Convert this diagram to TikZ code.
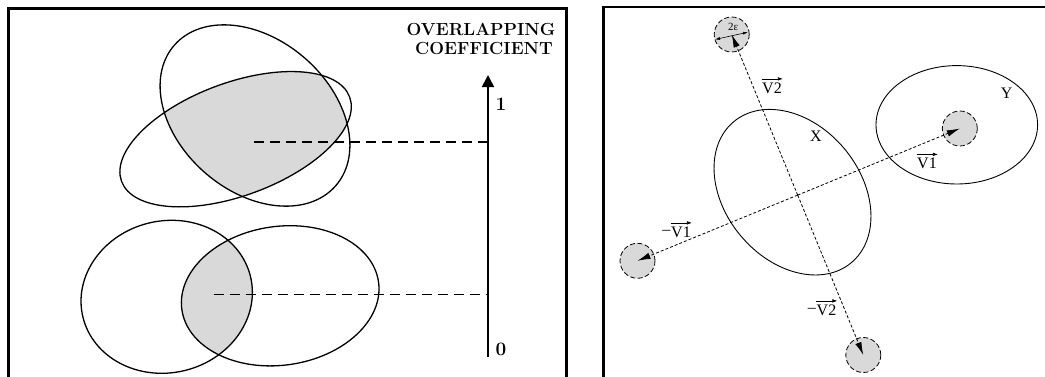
\documentclass[tikz,border=0pt]{standalone}
\usepackage{fontspec}
\newfontfamily\tnr{Liberation Serif}
\usetikzlibrary{arrows.meta}
\definecolor{areagray}{HTML}{D9D9D9}
\begin{document}
\begin{tikzpicture}[x=1pt,y=1pt,
  frame/.style={line width=2.7pt},
  ell/.style={line width=1.3pt},
  lead/.style={dash pattern=on 10pt off 6pt, line width=1.2pt},
  axisline/.style={line width=1.6pt, -{Triangle[length=12pt,width=12pt]}},
  boldlbl/.style={font=\fontsize{17.5}{20}\selectfont\bfseries, inner sep=0pt},
  digitlbl/.style={font=\fontsize{19}{21}\selectfont\bfseries, inner sep=0pt},
  rell/.style={line width=0.9pt},
  vecline/.style={dash pattern=on 3pt off 2pt, line width=0.8pt, -{Latex[length=13pt,width=6.5pt]}},
  overarrow/.style={line width=0.6pt, -{Latex[length=5pt,width=3.5pt]}},
  spot/.style={circle, minimum size=35pt, inner sep=0pt, fill=areagray, draw, dash pattern=on 5pt off 2.5pt, line width=0.8pt},
  vlbl/.style={font=\tnr\fontsize{16}{18}\selectfont, inner sep=0pt},
  smalllbl/.style={font=\tnr\fontsize{11}{12}\selectfont, inner sep=0pt}]
\useasboundingbox (0,0) rectangle (1045,376);
\clip (0,0) rectangle (1045,376);

% ---------- left panel ----------
\draw[frame] (8.3,-10) rectangle (566.5,367.7);

\begin{scope}
  \clip[rotate around={-41:(255,260.5)}] (255,260.5) ellipse (107 and 76);
  \fill[areagray, rotate around={20.3:(235.6,236.8)}] (235.6,236.8) ellipse (121.6 and 56.4);
\end{scope}
\begin{scope}
  \clip[rotate around={13.5:(166.7,79.2)}] (166.7,79.2) ellipse (86.2 and 75.9);
  \fill[areagray, rotate around={8:(280.2,80.2)}] (280.2,80.2) ellipse (99.3 and 69.4);
\end{scope}
\draw[ell, rotate around={-41:(255,260.5)}] (255,260.5) ellipse (107 and 76);
\draw[ell, rotate around={20.3:(235.6,236.8)}] (235.6,236.8) ellipse (121.6 and 56.4);
\draw[ell, rotate around={13.5:(166.7,79.2)}] (166.7,79.2) ellipse (86.2 and 75.9);
\draw[ell, rotate around={8:(280.2,80.2)}] (280.2,80.2) ellipse (99.3 and 69.4);

\coordinate (axbot) at (488,18.6);
\coordinate (axtop) at (488,301);
\draw[axisline] (axbot) -- (axtop);
\coordinate (d1s) at (254,234.1);
\coordinate (d1e) at (488,234.1);
\coordinate (d2s) at (213.5,81.4);
\coordinate (d2e) at (488,81.4);
\draw[lead] (d1s) -- (d1e);
\draw[lead] (d2s) -- (d2e);

\node[boldlbl, anchor=base] (t1) at (481,341) {OVERLAPPING};
\node[boldlbl, anchor=base] (t2) at (484,322) {COEFFICIENT};
\node[digitlbl] (one) at (501,272) {1};
\node[digitlbl] (zero) at (501,27) {0};

% ---------- right panel ----------
\draw[frame] (603.3,-10) rectangle (1060,369);

\node[spot] (T) at (731.7,341.5) {};
\node[spot] (L) at (637.5,115.2) {};
\node[spot] (B) at (863.3,21) {};
\node[spot] (R) at (959.8,247.5) {};

\draw[rell, rotate around={-50.2:(792.5,183.8)}] (792.5,183.8) ellipse (91.8 and 67.7);
\draw[rell] (956.8,251.2) ellipse (80.8 and 59.2);

\coordinate (O) at (797.7,180.9);
\draw[vecline] (O) -- (T.center);
\draw[vecline] (O) -- (L.center);
\draw[vecline] (O) -- (B.center);
\draw[vecline] (O) -- (R.center);

\coordinate (e1) at (715,336.5);
\coordinate (e2) at (748,343.8);
\draw[line width=0.6pt, {Latex[length=5pt,width=3pt]}-{Latex[length=5pt,width=3pt]}] (e1) -- (e2);
\node[smalllbl] (eps) at (733.3,349) {2ε};

\node[vlbl] (X) at (816,239.3) {X};
\node[vlbl] (Y) at (1006.7,282.7) {Y};

\node[vlbl] (v2) at (772,288) {V2};
\draw[overarrow] ([xshift=-0.5pt,yshift=3.5pt]v2.north west) -- ([xshift=1pt,yshift=3.5pt]v2.north east);
\node[vlbl] (v1) at (927,212.5) {V1};
\draw[overarrow] ([xshift=-0.5pt,yshift=3.5pt]v1.north west) -- ([xshift=1pt,yshift=3.5pt]v1.north east);
\node[vlbl] (mv1) at (681,144) {V1};
\node[vlbl, anchor=east] (mv1m) at ([xshift=-0.5pt]mv1.west) {–};
\draw[overarrow] ([xshift=-0.5pt,yshift=3.5pt]mv1.north west) -- ([xshift=1pt,yshift=3.5pt]mv1.north east);
\node[vlbl] (mv2) at (826.5,66) {V2};
\node[vlbl, anchor=east] (mv2m) at ([xshift=-0.5pt]mv2.west) {–};
\draw[overarrow] ([xshift=-0.5pt,yshift=3.5pt]mv2.north west) -- ([xshift=1pt,yshift=3.5pt]mv2.north east);
\end{tikzpicture}
\end{document}
